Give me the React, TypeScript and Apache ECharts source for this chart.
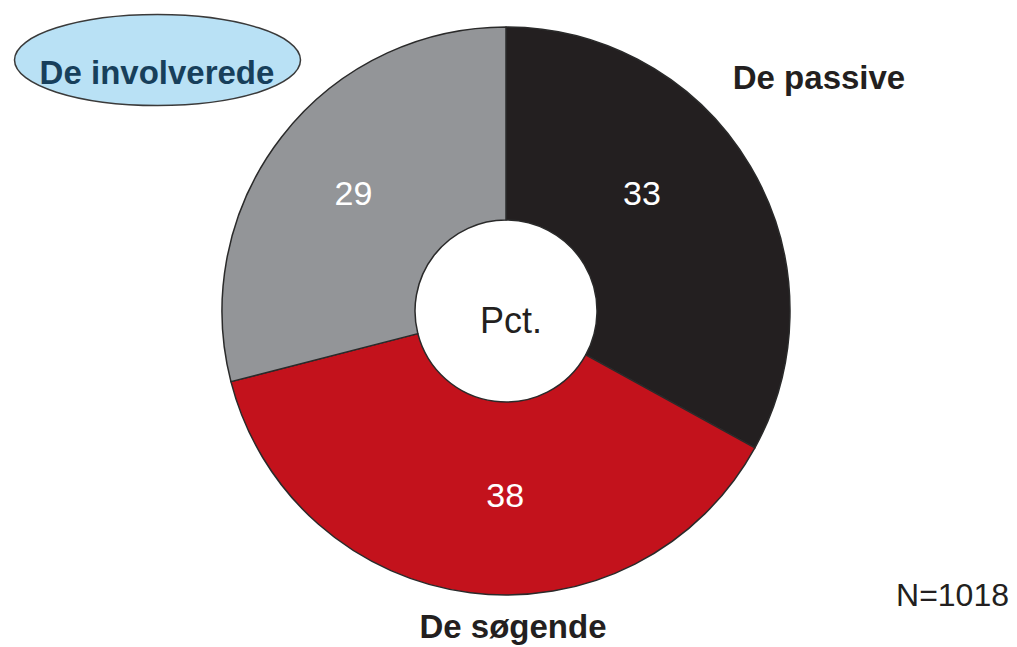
import React, { useEffect, useRef } from "react";
import * as echarts from "echarts";

// ---- data ----
const categories = ["De passive", "De søgende", "De involverede"];
const values = [33, 38, 29];
const sliceColors = ["#231f20", "#c3121c", "#939598"];
const centerLabel = "Pct.";
const sampleNote = "N=1018";
const highlightedIndex = 2;

// ---- layout (positions / nudges, not data) ----
const labelNudge: number[][] = [
  [-28, -21],
  [23, -5],
  [-2, -1],
];
const namePositions: number[][] = [
  [819, 77],
  [513, 626],
  [157, 72],
];

export default function App() {
  const ref = useRef<HTMLDivElement>(null);

  useEffect(() => {
    if (!ref.current) return;
    const chart = echarts.init(ref.current, undefined, { renderer: "svg" });
    const font = "'Liberation Sans', Arial, sans-serif";

    const graphics: any[] = [
      {
        type: "ellipse",
        shape: { cx: 157.5, cy: 60, rx: 143, ry: 45.5 },
        style: { fill: "#b9e1f5", stroke: "#3a3a3a", lineWidth: 1.5 },
        z: 1,
      },
    ];
    categories.forEach((name, i) => {
      graphics.push({
        type: "text",
        z: 2,
        style: {
          text: name,
          x: namePositions[i][0],
          y: namePositions[i][1],
          fill: i === highlightedIndex ? "#173f5b" : "#231f20",
          font: `bold 33px ${font}`,
          align: "center",
          verticalAlign: "middle",
          textAlign: "center",
          textVerticalAlign: "middle",
        },
      });
    });
    graphics.push({
      type: "text",
      z: 2,
      style: {
        text: centerLabel,
        x: 511,
        y: 320,
        fill: "#231f20",
        font: `36px ${font}`,
        align: "center",
        verticalAlign: "middle",
        textAlign: "center",
        textVerticalAlign: "middle",
      },
    });
    graphics.push({
      type: "text",
      z: 2,
      style: {
        text: sampleNote,
        x: 1009,
        y: 595,
        fill: "#231f20",
        font: `32px ${font}`,
        align: "right",
        verticalAlign: "middle",
        textAlign: "right",
        textVerticalAlign: "middle",
      },
    });

    chart.setOption({
      animation: false,
      backgroundColor: "#ffffff",
      graphic: graphics,
      series: [
        {
          type: "pie",
          center: [506, 311],
          radius: [91, 284],
          startAngle: 90,
          clockwise: true,
          silent: true,
          avoidLabelOverlap: false,
          itemStyle: { borderColor: "#2a2a2a", borderWidth: 1.5 },
          label: {
            show: true,
            position: "inside",
            formatter: "{c}",
            color: "#ffffff",
            fontSize: 34,
            fontFamily: "'Liberation Sans', Arial, sans-serif",
          },
          labelLine: { show: false },
          labelLayout: (params: any) => ({
            dx: labelNudge[params.dataIndex][0],
            dy: labelNudge[params.dataIndex][1],
          }),
          data: categories.map((name, i) => ({
            name,
            value: values[i],
            itemStyle: { color: sliceColors[i] },
          })),
        },
      ],
    });
    return () => chart.dispose();
  }, []);

  return (
    <div
      ref={ref}
      style={{ position: "fixed", left: 0, top: 0, width: 1017, height: 647 }}
    />
  );
}
